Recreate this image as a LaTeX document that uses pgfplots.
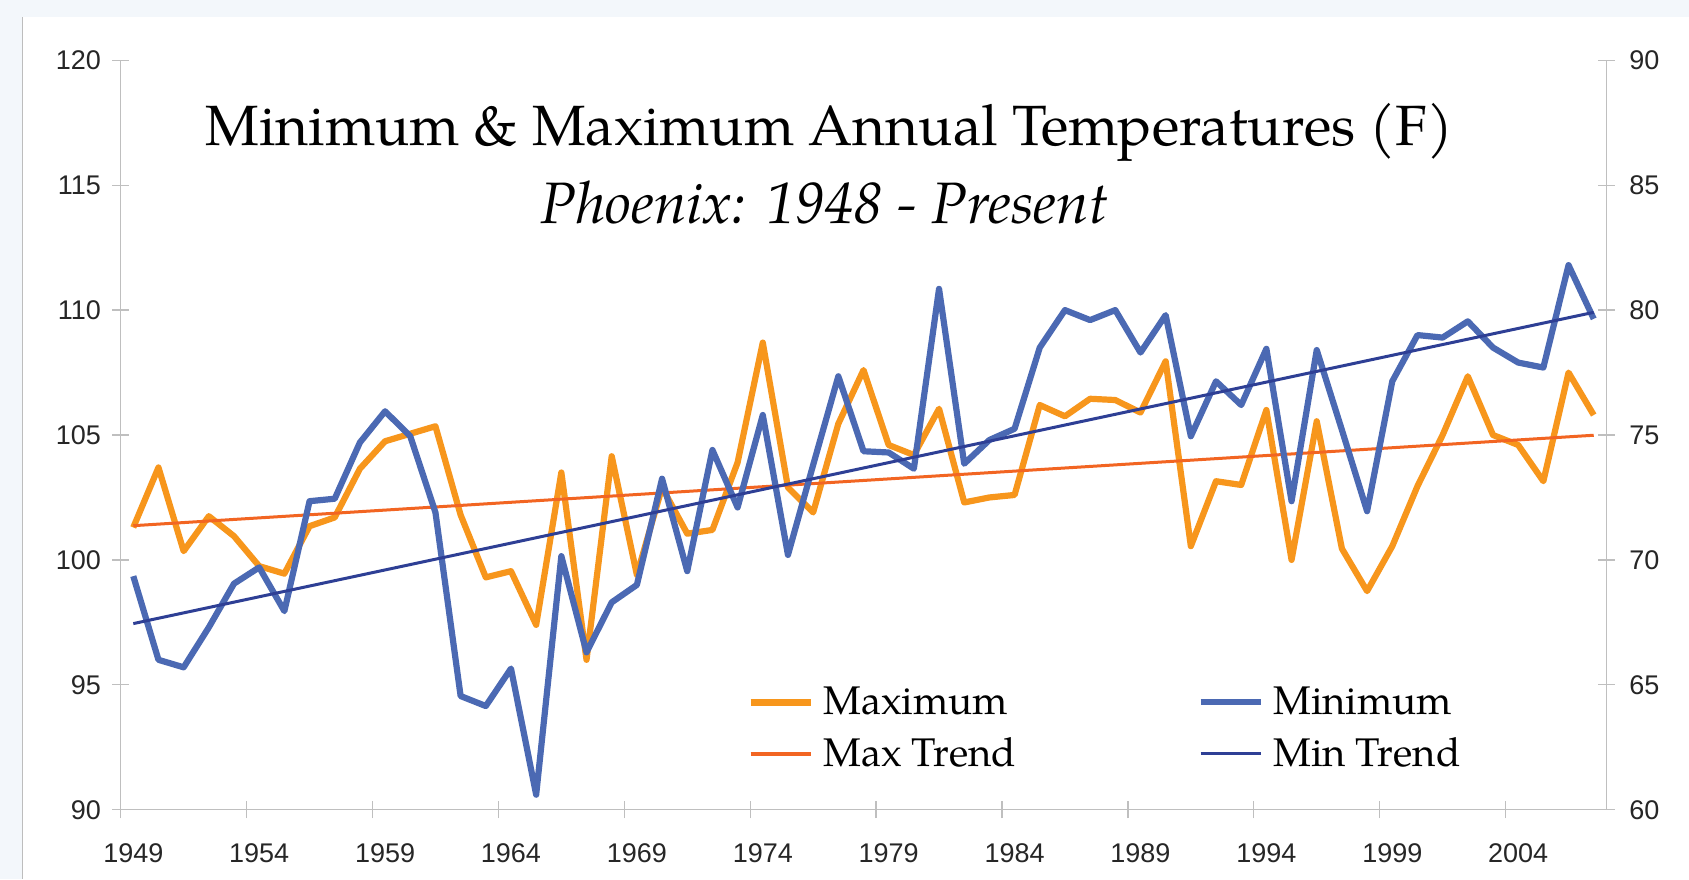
\documentclass[border=0pt]{standalone}
\usepackage{fontspec}
\setmainfont{Liberation Sans}
\newfontfamily\pala[ItalicFont=texgyrepagella-italic.otf]{texgyrepagella-regular.otf}
\usepackage{pgfplots}
\usepackage{pgfplotstable}
\pgfplotsset{compat=1.18}

\definecolor{bgc}{HTML}{F3F7FB}
\definecolor{axisgray}{HTML}{BFBFBF}
\definecolor{framegray}{HTML}{BDBDBD}
\definecolor{tickc}{HTML}{262626}
\definecolor{maxc}{HTML}{F7961C}
\definecolor{maxtc}{HTML}{F26522}
\definecolor{minc}{HTML}{4B69B3}
\definecolor{mintc}{HTML}{2E3F95}

\pgfplotstableread{
year max min
1949 101.30 69.35
1950 103.70 66.00
1951 100.35 65.70
1952 101.75 67.30
1953 100.95 69.05
1954 99.75 69.70
1955 99.45 67.95
1956 101.35 72.35
1957 101.70 72.45
1958 103.65 74.70
1959 104.75 75.95
1960 105.05 74.95
1961 105.35 71.90
1962 101.80 64.55
1963 99.30 64.15
1964 99.55 65.65
1965 97.40 60.60
1966 103.50 70.15
1967 96.00 66.30
1968 104.15 68.30
1969 99.40 69.00
1970 102.90 73.25
1971 101.05 69.55
1972 101.20 74.40
1973 103.90 72.10
1974 108.70 75.80
1975 102.90 70.20
1976 101.90 73.80
1977 105.45 77.35
1978 107.60 74.35
1979 104.60 74.30
1980 104.20 73.65
1981 106.05 80.85
1982 102.30 73.85
1983 102.50 74.80
1984 102.60 75.25
1985 106.20 78.50
1986 105.75 80.00
1987 106.45 79.60
1988 106.40 80.00
1989 105.90 78.30
1990 107.95 79.80
1991 100.55 74.95
1992 103.15 77.15
1993 103.00 76.20
1994 106.00 78.45
1995 100.00 72.35
1996 105.55 78.40
1997 100.45 75.20
1998 98.75 71.95
1999 100.55 77.15
2000 102.95 79.00
2001 105.00 78.90
2002 107.35 79.55
2003 105.00 78.50
2004 104.60 77.90
2005 103.15 77.70
2006 107.50 81.80
2007 105.80 79.65
}\temps

\pgfplotstableread{
year maxt mint
1949 101.37 67.45
2007 104.99 79.91
}\trends

\pgfplotsset{
  common/.style={
    at={(0pt,0pt)}, anchor=south west,
    scale only axis, width=742.8pt, height=374.7pt,
    xmin=1948.5, xmax=2007.5,
    axis line style={draw=axisgray, line width=0.65pt, -},
    tick style={draw=axisgray, line width=0.65pt},
    tick align=center, major tick length=8.3pt,
    /pgf/number format/assume math mode=true,
    tick label style={font=\fontsize{13.5}{16}\selectfont, text=tickc, inner sep=0pt},
    clip=false,
  },
}

\begin{document}
\begin{tikzpicture}
\fill[bgc] (-60.35pt,-34.65pt) rectangle (784.15pt,404.85pt);
\useasboundingbox (-60.35pt,-34.65pt) rectangle (784.15pt,404.85pt);
\fill[white] (-48.6pt,-34.65pt) rectangle (784.15pt,396.35pt);
\draw[framegray, line width=0.8pt] (-49pt,-34.65pt) -- (-49pt,396.35pt);

\begin{axis}[common,
  ymin=90, ymax=120,
  axis x line*=bottom, axis y line*=left,
  xtick={1948.5,1953.5,...,2003.5}, xticklabels={},
  extra x ticks={1949,1954,...,2004},
  extra x tick labels={1949,1954,1959,1964,1969,1974,1979,1984,1989,1994,1999,2004},
  extra x tick style={major tick length=0pt, xticklabel style={anchor=north, yshift=-16.6pt}},
  ytick={90,95,...,120},
  yticklabel style={anchor=east, xshift=-5.5pt},
]
\addplot[maxc, line width=3.1pt, line join=round] table[x=year, y=max] {\temps};
\addplot[maxtc, line width=1.5pt] table[x=year, y=maxt] {\trends};
\end{axis}

\begin{axis}[common,
  ymin=60, ymax=90,
  axis x line=none, axis y line*=right,
  ytick={60,65,...,90},
  yticklabel style={anchor=west, xshift=7.15pt},
  legend columns=2,
  legend cell align=left,
  legend style={at={(0.4175,0.175)}, anchor=north west, draw=none, fill=none,
    font=\pala\fontsize{20}{24}\selectfont, text=black,
    /tikz/every odd column/.append style={column sep=2.7pt},
    /tikz/every even column/.append style={column sep=88.6pt},
    row sep=6pt},
  legend image code/.code={\draw[#1] (0pt,0pt) -- (30pt,0pt);},
]
\addlegendimage{maxc, line width=3.3pt}
\addlegendentry{Maximum}
\addplot[minc, line width=3.1pt, line join=round] table[x=year, y=min] {\temps};
\addlegendentry{Minimum}
\addlegendimage{maxtc, line width=2pt}
\addlegendentry{Max Trend}
\addplot[mintc, line width=1.5pt] table[x=year, y=mint] {\trends};
\addlegendentry{Min Trend}
\end{axis}

\node[anchor=base, font=\pala\fontsize{28.4}{34}\selectfont] at (354.4pt,332pt) {Minimum \& Maximum Annual Temperatures (F)};
\node[anchor=base, font=\pala\itshape\fontsize{29.2}{34}\selectfont] at (351.9pt,292.85pt) {Phoenix: 1948 - Present};
\end{tikzpicture}
\end{document}
